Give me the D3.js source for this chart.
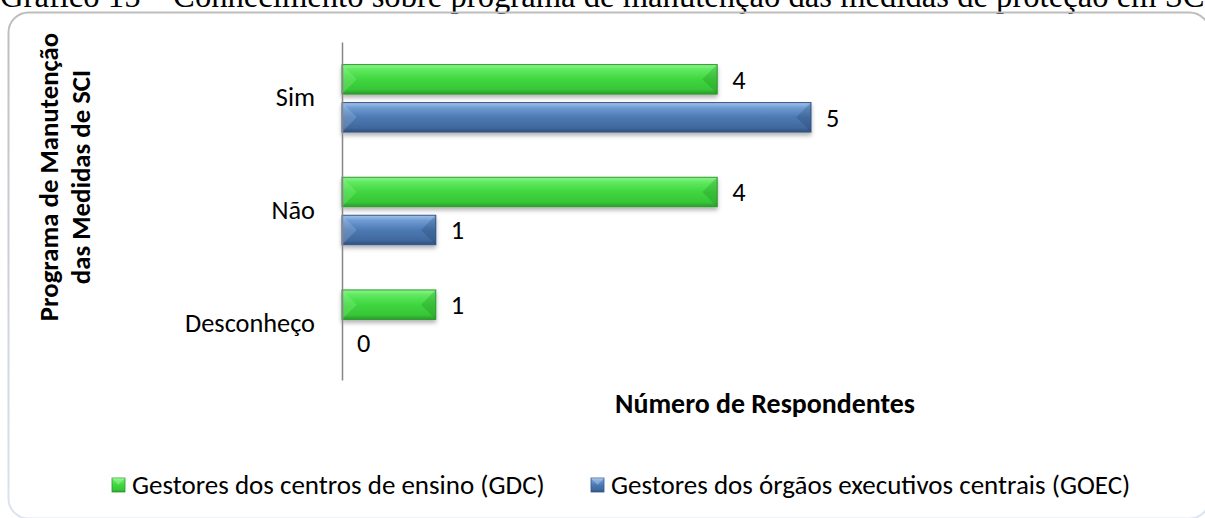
<!DOCTYPE html>
<html>
<head>
<meta charset="utf-8">
<script src="https://cdn.jsdelivr.net/npm/d3@7"></script>
<style>
  body { margin: 0; background: #fff; }
  svg { display: block; }
</style>
</head>
<body>
<div id="chart"></div>
<script>
// data
var categories = ["Sim", "Não", "Desconheço"];
var seriesNames = ["Gestores dos centros de ensino (GDC)", "Gestores dos órgãos executivos centrais (GOEC)"];
var gdcValues = [4, 4, 1];
var goecValues = [5, 1, 0];
var figureTitle = "Gráfico 15 – Conhecimento sobre programa de manutenção das medidas de proteção em SCI";
var xTitle = "Número de Respondentes";
var yTitleLines = ["Programa de Manutenção", "das Medidas de SCI"];

var svgWidth = 1205;
var svgHeight = 518;
var font = "Carlito, Calibri, Lato, sans-serif";
var serif = "'Liberation Serif', 'Times New Roman', serif";

var svg = d3.select("#chart")
    .append("svg")
    .attr("width", svgWidth)
    .attr("height", svgHeight);

var defs = svg.append("defs");

// measure helper so the substitute font takes the same room as the original
function fitSize(str, family, weight, target) {
    var t = svg.append("text")
        .attr("font-family", family)
        .attr("font-weight", weight)
        .attr("font-size", 100)
        .text(str);
    var w = t.node().getComputedTextLength();
    t.remove();
    return 100 * target / w;
}
var labelSize = fitSize("Desconheço", font, "normal", 130);
var legendSize = fitSize(seriesNames[0], font, "normal", 413);
var boldSize = fitSize(xTitle, font, "bold", 300);
var titleSize = fitSize(figureTitle, serif, "normal", 1216);

// gradients for the bevelled bars
var palettes = [
    { id: "gGreen", stops: ["#8af58a", "#5ee85e", "#3fd63f", "#37c637", "#2a9a2a"], stroke: "#2f9a2f", dark: "#1f7a1f", light: "#b8ffb8" },
    { id: "gBlue", stops: ["#a3c2ea", "#6f9bd2", "#4b79b3", "#41699e", "#2f4f7a"], stroke: "#34568a", dark: "#1f3a60", light: "#c8dcf5" }
];
palettes.forEach(function (p) {
    var g = defs.append("linearGradient")
        .attr("id", p.id)
        .attr("x1", 0).attr("y1", 0).attr("x2", 0).attr("y2", 1);
    [0, 0.18, 0.5, 0.85, 1].forEach(function (o, i) {
        g.append("stop").attr("offset", o).attr("stop-color", p.stops[i]);
    });
});

var border = defs.append("linearGradient")
    .attr("id", "borderGrad")
    .attr("x1", 0).attr("y1", 0).attr("x2", 0).attr("y2", 1);
border.append("stop").attr("offset", 0).attr("stop-color", "#bdbdbd");
border.append("stop").attr("offset", 1).attr("stop-color", "#dbe3f1");

var shadow = defs.append("filter")
    .attr("id", "shadow")
    .attr("x", "-5%").attr("y", "-30%").attr("width", "110%").attr("height", "180%");
shadow.append("feDropShadow")
    .attr("dx", 0).attr("dy", 3).attr("stdDeviation", 2)
    .attr("flood-color", "#000").attr("flood-opacity", 0.3);

// figure caption (cut off by the top of the page)
svg.append("text")
    .attr("x", 0)
    .attr("y", 7)
    .attr("font-family", serif)
    .attr("font-size", titleSize)
    .attr("fill", "#000")
    .text(figureTitle);

// chart frame
svg.append("rect")
    .attr("x", 8.5)
    .attr("y", 12.5)
    .attr("width", 1201)
    .attr("height", 506)
    .attr("rx", 20)
    .attr("fill", "none")
    .attr("stroke", "url(#borderGrad)")
    .attr("stroke-width", 2);

// scales
var xScale = d3.scaleLinear()
    .domain([0, 5])
    .range([342, 811]);

var yScale = d3.scaleBand()
    .domain(categories)
    .range([42, 380]);

var ySub = d3.scaleBand()
    .domain([0, 1])
    .range([0, yScale.bandwidth()])
    .paddingInner(0.224)
    .paddingOuter(0.595);

var rows = [];
categories.forEach(function (c, i) {
    rows.push({ cat: c, s: 0, v: gdcValues[i] });
    rows.push({ cat: c, s: 1, v: goecValues[i] });
});

// bars
var bars = svg.append("g").selectAll("g")
    .data(rows.filter(function (d) { return d.v > 0; }))
    .enter()
    .append("g");

function drawBevelBar(sel, x0, y0, w, h, p) {
    sel.append("rect")
        .attr("x", x0).attr("y", y0)
        .attr("width", w).attr("height", h)
        .attr("fill", "url(#" + p.id + ")")
        .attr("stroke", p.stroke)
        .attr("stroke-width", 1)
        .attr("filter", "url(#shadow)");
    var b = Math.min(h / 2, w / 2);
    sel.append("path")
        .attr("d", "M" + (x0 + w) + "," + y0 + "L" + (x0 + w - b) + "," + (y0 + h / 2) + "L" + (x0 + w) + "," + (y0 + h) + "Z")
        .attr("fill", p.dark).attr("opacity", 0.25);
    sel.append("path")
        .attr("d", "M" + x0 + "," + y0 + "L" + (x0 + b) + "," + (y0 + h / 2) + "L" + x0 + "," + (y0 + h) + "Z")
        .attr("fill", p.light).attr("opacity", 0.2);
}

bars.each(function (d) {
    var y0 = yScale(d.cat) + ySub(d.s);
    drawBevelBar(d3.select(this), xScale(0), y0, xScale(d.v) - xScale(0), ySub.bandwidth(), palettes[d.s]);
});

// value labels
svg.append("g").selectAll("text")
    .data(rows)
    .enter()
    .append("text")
    .attr("x", function (d) { return xScale(d.v) + 15; })
    .attr("y", function (d) { return yScale(d.cat) + ySub(d.s) + ySub.bandwidth() / 2; })
    .attr("dy", "0.35em")
    .attr("font-family", font)
    .attr("font-size", labelSize)
    .attr("fill", "#000")
    .text(function (d) { return d.v; });

// category axis (line + labels, no ticks)
var yAxis = d3.axisLeft(yScale).tickSize(0).tickPadding(27);
var yAxisG = svg.append("g")
    .attr("transform", "translate(" + xScale(0) + ",0)")
    .call(yAxis);
yAxisG.select(".domain").attr("stroke", "#868686").attr("stroke-width", 1.5);
yAxisG.selectAll("text")
    .attr("font-family", font)
    .attr("font-size", labelSize)
    .attr("fill", "#000")
    .attr("dy", "0.3em");

// axis titles
svg.append("text")
    .attr("x", 765)
    .attr("y", 413)
    .attr("text-anchor", "middle")
    .attr("font-family", font)
    .attr("font-weight", "bold")
    .attr("font-size", boldSize)
    .text(xTitle);

var yTitle = svg.append("text")
    .attr("transform", "translate(58,177) rotate(-90)")
    .attr("text-anchor", "middle")
    .attr("font-family", font)
    .attr("font-weight", "bold")
    .attr("font-size", boldSize * 0.96);
yTitleLines.forEach(function (line, i) {
    yTitle.append("tspan")
        .attr("x", 0)
        .attr("dy", i === 0 ? 0 : "1.2em")
        .text(line);
});

// legend
var legendX = [112, 591];
var legend = svg.append("g").selectAll("g")
    .data(seriesNames)
    .enter()
    .append("g")
    .attr("transform", function (d, i) { return "translate(" + legendX[i] + ",478)"; });

legend.each(function (d, i) {
    var p = palettes[i];
    var g = d3.select(this);
    g.append("rect")
        .attr("width", 13).attr("height", 14)
        .attr("fill", "url(#" + p.id + ")")
        .attr("stroke", p.stroke).attr("stroke-width", 0.8);
    g.append("path")
        .attr("d", "M0,0L6.5,7L13,0Z")
        .attr("fill", p.light).attr("opacity", 0.35);
    g.append("text")
        .attr("x", 20)
        .attr("y", 7)
        .attr("dy", "0.35em")
        .attr("font-family", font)
        .attr("font-size", legendSize)
        .attr("fill", "#000")
        .text(d);
});
</script>
</body>
</html>
